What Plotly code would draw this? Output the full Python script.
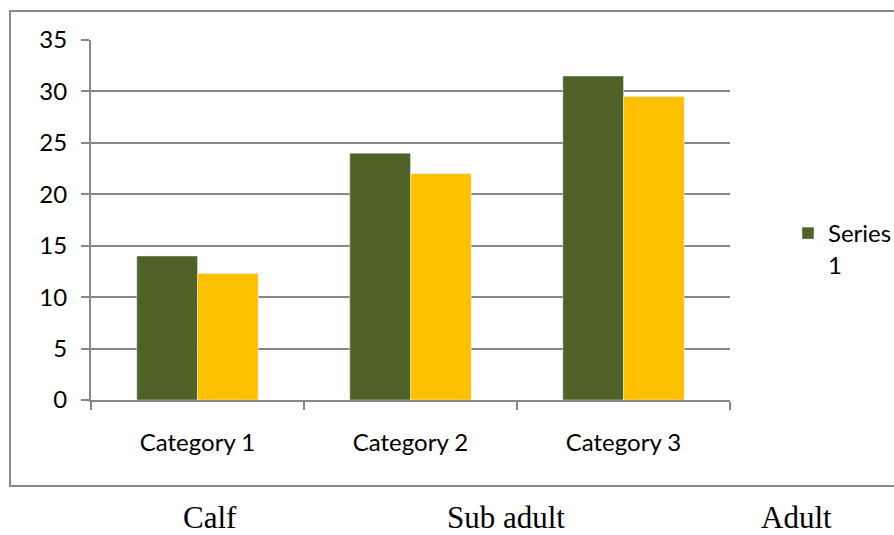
import plotly.graph_objects as go

# Chart data
categories = ["Category 1", "Category 2", "Category 3"]
series1 = [14.0, 24.0, 31.5]
series2 = [12.3, 22.0, 29.5]
group_labels = ["Calf", "Sub adult", "Adult"]

W, H = 894, 535
L, R, T, B = 91, 164, 40, 135
plot_w = W - L - R
plot_h = H - T - B

grid = "#878787"
tick_font = dict(family="Lato, Noto Sans, sans-serif", size=24, color="#000000")


def px_to_paper_x(px):
    return (px - L) / plot_w


def px_to_paper_y(py):
    return (H - B - py) / plot_h


fig = go.Figure()
fig.add_trace(go.Bar(x=categories, y=series1, name="Series<br>1",
                     marker=dict(color="#4F6228")))
fig.add_trace(go.Bar(x=categories, y=series2, name="Series 2",
                     marker=dict(color="#FFC000"), showlegend=False))

# Outer chart frame (open on the right edge)
fig.add_shape(type="rect", xref="paper", yref="paper",
              x0=px_to_paper_x(10), x1=px_to_paper_x(910),
              y0=px_to_paper_y(486), y1=px_to_paper_y(11),
              line=dict(color="#898989", width=2), layer="below")

# Age-group captions under the chart
for label, cx in zip(group_labels, [210, 506, 796]):
    fig.add_annotation(text=label, xref="paper", yref="paper",
                       x=px_to_paper_x(cx), y=px_to_paper_y(517.5),
                       xanchor="center", yanchor="middle", showarrow=False,
                       font=dict(family="Liberation Serif, Times New Roman, serif",
                                 size=31, color="#000000"))

fig.update_layout(
    width=W, height=H, autosize=False,
    margin=dict(l=L, r=R, t=T, b=B, pad=0, autoexpand=False),
    paper_bgcolor="white", plot_bgcolor="white",
    barmode="group", bargap=0.43, bargroupgap=0,
    showlegend=True,
    legend=dict(x=px_to_paper_x(788), y=px_to_paper_y(211),
                xanchor="left", yanchor="top", valign="top",
                font=tick_font, bgcolor="rgba(0,0,0,0)"),
    xaxis=dict(type="category", range=[-0.5, 2.5], showgrid=False,
               showline=True, linecolor=grid, linewidth=2,
               ticks="outside", tickson="boundaries", ticklen=8,
               tickwidth=2, tickcolor=grid, tickfont=tick_font,
               ticklabelstandoff=20, zeroline=False),
    yaxis=dict(range=[0, 35], dtick=5, showgrid=True, gridcolor=grid,
               gridwidth=2, showline=True, linecolor=grid, linewidth=2,
               ticks="outside", ticklen=8, tickwidth=2, tickcolor=grid,
               tickfont=tick_font, ticklabelstandoff=9, zeroline=False),
)

fig.write_html("out.html")
